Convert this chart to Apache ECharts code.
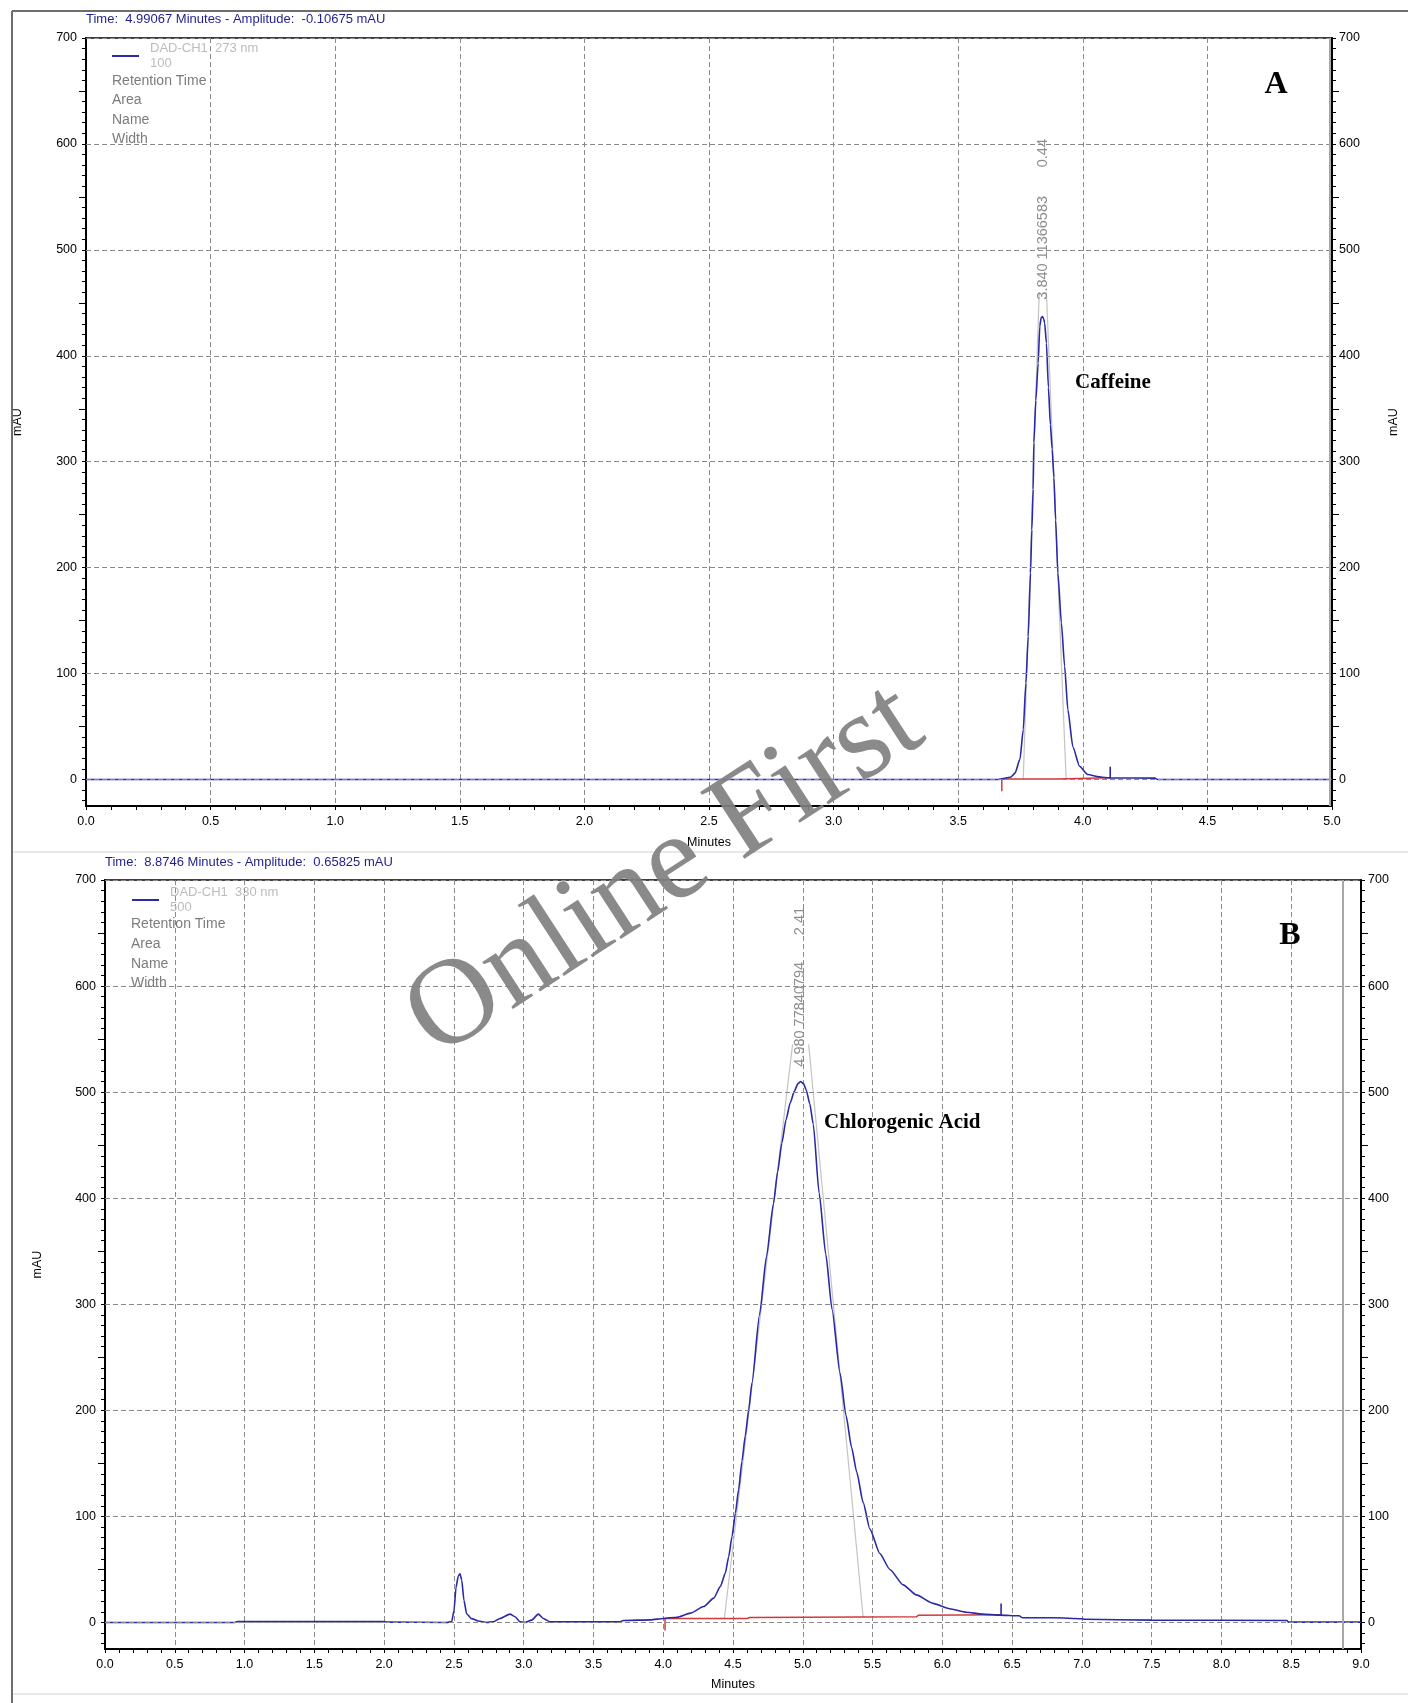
<!DOCTYPE html>
<html>
<head>
<meta charset="utf-8">
<script src="https://cdn.jsdelivr.net/npm/echarts@6.0.0/dist/echarts.min.js"></script>
<style>
html,body{margin:0;padding:0;background:#ffffff;}
#chart{width:1408px;height:1703px;}
</style>
</head>
<body>
<div id="chart"></div>
<script>
// ================= DATA =================
const panelLetters = ['A', 'B'];
const compoundNames = ['Caffeine', 'Chlorogenic Acid'];
const channelNames = ['DAD-CH1  273 nm', 'DAD-CH1  330 nm'];
const channelScales = ['100', '500'];
const legendFields = ['Retention Time', 'Area', 'Name', 'Width'];
const cursorTimes = [4.99067, 8.8746];
const cursorAmplitudes = ['-0.10675', '0.65825'];
const xMaxMinutes = [5, 9];
const yLabelValues = [0, 100, 200, 300, 400, 500, 600, 700];
const yMidTickValues = [50, 150, 250, 350, 450, 550, 650];
const yMinorTickValues = [];
for (let v = -20; v <= 700; v += 10) yMinorTickValues.push(v);

const peakRT = [3.840, 4.980];
const peakRTText = ['3.840', '4.980'];
const peakAreaText = ['11366583', '77840794'];
const peakWidthText = ['0.44', '2.41'];

// Panel A chromatogram (minutes, mAU)
const signalA = [
  [0, 0], [3.66, 0], [3.68, 0.8], [3.695, 1.6], [3.71, 2.2], [3.728, 6], [3.7477, 19],
  [3.761, 47], [3.7716, 91], [3.7809, 135], [3.7902, 195], [3.7955, 236], [3.8008, 274],
  [3.8035, 318], [3.8115, 358], [3.8208, 393], [3.8274, 428], [3.833, 436], [3.838, 437],
  [3.843, 435], [3.847, 431], [3.854, 412], [3.862, 370], [3.870, 335], [3.877, 312],
  [3.884, 285], [3.891, 245], [3.900, 195], [3.914, 148], [3.927, 107], [3.940, 66],
  [3.960, 31], [3.987, 12.5], [4.020, 4.7], [4.067, 2.5], [4.09, 1.8], [4.11, 1.5],
  [4.29, 1.3], [4.30, 0], [5.0, 0]
];
const baselineA = [[3.675, -11], [3.675, 0.6], [3.893, 0.6], [3.895, 1.6], [4.11, 1.6]];
const tangentLeftA = [[3.761, 0], [3.825, 460]];
const tangentRightA = [[3.933, 0], [3.854, 460]];
const peakEndA = [[4.11, 1.5], [4.11, 12]];

// Panel B chromatogram (minutes, mAU)
const signalB = [
  [0, 0], [0.93, 0], [0.95, 0.8], [2.0, 0.8], [2.02, 0.3], [2.45, 0], [2.484, 0.9],
  [2.501, 11.3], [2.515, 33], [2.532, 44], [2.544, 46], [2.556, 40], [2.572, 21],
  [2.591, 8.3], [2.627, 3.6], [2.675, 1.4], [2.735, 0], [2.782, 0.6], [2.830, 3.8],
  [2.902, 7.9], [2.938, 5.4], [2.974, 0.6], [3.01, 0], [3.057, 2.2], [3.105, 7.9],
  [3.141, 3.8], [3.189, 0.6], [3.69, 0.6], [3.714, 1.9], [3.91, 2.5], [4.0, 3.8],
  [4.1, 5], [4.195, 8.8], [4.29, 15], [4.362, 23], [4.41, 34], [4.445, 46.5],
  [4.469, 62], [4.493, 81], [4.517, 103], [4.540, 125], [4.564, 152], [4.588, 176],
  [4.612, 200], [4.636, 226], [4.69, 290], [4.74, 345], [4.79, 395], [4.82, 425],
  [4.85, 452], [4.88, 474], [4.91, 490], [4.94, 501], [4.965, 508], [4.985, 510],
  [5.005, 508], [5.025, 502], [5.05, 489], [5.075, 470], [5.117, 405], [5.165, 347],
  [5.21, 295], [5.267, 235], [5.31, 195], [5.35, 165], [5.386, 142], [5.433, 113],
  [5.481, 88], [5.552, 65], [5.624, 50], [5.719, 35.5], [5.814, 26], [5.933, 18],
  [6.052, 13], [6.171, 9.7], [6.29, 7.9], [6.41, 6.9], [6.55, 6.3], [6.576, 4.4],
  [6.8, 4.4], [7.0, 3.5], [7.02, 3], [7.5, 2.2], [8.47, 1.9], [8.48, 0.3], [9.0, 0.3]
];
const baselineB = [[4.013, -7.5], [4.013, 3.8], [4.6, 3.8], [4.62, 4.7], [5.814, 5.3], [5.83, 6.9], [6.421, 7.2]];
const tangentLeftB = [[4.438, 3.8], [4.927, 545]];
const tangentRightB = [[5.433, 4.4], [5.042, 545]];
const peakEndB = [[6.421, 6.9], [6.421, 18]];

const signals = [signalA, signalB];
const baselines = [baselineA, baselineB];
const tangentsL = [tangentLeftA, tangentLeftB];
const tangentsR = [tangentRightA, tangentRightB];
const peakEnds = [peakEndA, peakEndB];

// ================= STYLE / LAYOUT =================
const FONT = '"Liberation Sans", Arial, sans-serif';
const SERIF = '"Liberation Serif", "Times New Roman", serif';
const BLUE = '#2a2aa6';
const RED = '#d23a3a';
const GRID_GRAY = '#8a8a8a';

const gridsLayout = [
  { left: 86, top: 38, width: 1255, height: 768 },
  { left: 105, top: 880, width: 1256, height: 769 }
];
const leftNameGap = [61.5, 60.5];
const minutesGap = [30, 29];

const chart = echarts.init(document.getElementById('chart'));

const grids = gridsLayout.map(g => Object.assign({
  show: true, borderColor: '#000', borderWidth: 1.5, backgroundColor: 'transparent', containLabel: false
}, g));

const xAxes = [0, 1].map(p => ({
  gridIndex: p, type: 'value', min: 0, max: xMaxMinutes[p], interval: 0.5,
  axisLine: { show: true, onZero: false, lineStyle: { color: '#000', width: 2 } },
  axisTick: { show: true, length: 4, lineStyle: { color: '#000', width: 1 } },
  minorTick: { show: true, splitNumber: 5, length: 4, lineStyle: { color: '#000', width: 1 } },
  splitLine: { show: true, lineStyle: { color: GRID_GRAY, type: [5, 3], width: 1 } },
  axisLabel: { color: '#000', fontSize: 12.5, fontFamily: FONT, margin: 9,
    formatter: v => v.toFixed(1) },
  name: 'Minutes', nameLocation: 'middle', nameGap: minutesGap[p],
  nameTextStyle: { color: '#000', fontSize: 12.5, fontFamily: FONT }
}));

function yAxesFor(p) {
  const base = { gridIndex: p, type: 'value', min: -25, max: 700, splitLine: { show: false } };
  const main = (pos, withName) => Object.assign({}, base, {
    position: pos,
    axisLine: { show: true, onZero: false, lineStyle: { color: '#000', width: 2 } },
    axisTick: { show: true, customValues: yMinorTickValues, length: 4, lineStyle: { color: '#000', width: 1 } },
    axisLabel: { show: true, customValues: yLabelValues, color: '#000', fontSize: 12.5, fontFamily: FONT,
      margin: pos === 'left' ? 9 : 7 },
    name: withName ? 'mAU' : '',
    nameLocation: 'middle', nameRotate: 90,
    nameGap: pos === 'left' ? leftNameGap[p] : 55,
    nameTextStyle: { color: '#000', fontSize: 12.5, fontFamily: FONT }
  });
  const mid = pos => Object.assign({}, base, {
    position: pos,
    axisLine: { show: false, onZero: false },
    axisTick: { show: true, customValues: yMidTickValues, length: 7, lineStyle: { color: '#000', width: 1 } },
    axisLabel: { show: false }
  });
  return [main('left', true), mid('left'), main('right', p === 0), mid('right')];
}
const yAxes = yAxesFor(0).concat(yAxesFor(1));

const series = [];
[0, 1].forEach(p => {
  const xi = p, yi = p * 4;
  series.push({
    name: 'grid' + p, type: 'line', xAxisIndex: xi, yAxisIndex: yi, data: [], silent: true, z: 1,
    markLine: { silent: true, symbol: ['none', 'none'], label: { show: false },
      lineStyle: { color: GRID_GRAY, type: [5, 3], width: 1 },
      data: yLabelValues.map(v => ({ yAxis: v })) }
  });
  series.push({
    name: 'cursor' + p, type: 'line', xAxisIndex: xi, yAxisIndex: yi, data: [], silent: true, z: 1,
    markLine: { silent: true, symbol: ['none', 'none'], label: { show: false },
      lineStyle: { color: '#a8a8a8', type: 'solid', width: 2 },
      data: [{ xAxis: cursorTimes[p] }] }
  });
  [tangentsL[p], tangentsR[p]].forEach((d, k) => series.push({
    name: 'tangent' + p + k, type: 'line', xAxisIndex: xi, yAxisIndex: yi, data: d,
    symbol: 'none', silent: true, z: 2, lineStyle: { color: '#c4c4c4', width: 1.2 }
  }));
  series.push({
    name: 'baseline' + p, type: 'line', xAxisIndex: xi, yAxisIndex: yi, data: baselines[p],
    symbol: 'none', silent: true, z: 3, lineStyle: { color: RED, width: 1.5 }
  });
  series.push({
    name: channelNames[p], type: 'line', xAxisIndex: xi, yAxisIndex: yi, data: signals[p],
    symbol: 'none', silent: true, z: 4, color: BLUE, smooth: 0.2, smoothMonotone: 'x',
    lineStyle: { color: BLUE, width: 1.6 }
  });
  series.push({
    name: 'peakEnd' + p, type: 'line', xAxisIndex: xi, yAxisIndex: yi, data: peakEnds[p],
    symbol: 'none', silent: true, z: 4, lineStyle: { color: BLUE, width: 1.6 }
  });
});

const titles = [0, 1].map(p => ({
  text: 'Time:  ' + cursorTimes[p] + ' Minutes - Amplitude:  ' + cursorAmplitudes[p] + ' mAU',
  left: gridsLayout[p].left, top: [13, 856][p], padding: 0,
  textStyle: { fontSize: 13, fontWeight: 'normal', color: '#1f1f8f', fontFamily: FONT }
}));

const legends = [0, 1].map(p => ({
  data: [channelNames[p]], left: [112, 132][p], top: [41, 885][p], padding: 0,
  orient: 'vertical', icon: 'rect', itemWidth: 27, itemHeight: 2, selectedMode: false,
  formatter: name => name + '\n' + channelScales[p],
  textStyle: { color: '#bcbcbc', fontSize: 13, lineHeight: 15, fontFamily: FONT, padding: [0, 0, 0, 6] }
}));

chart.setOption({
  animation: false,
  backgroundColor: '#ffffff',
  title: titles,
  legend: legends,
  grid: grids,
  xAxis: xAxes,
  yAxis: yAxes,
  series: series
});

// ================= ANNOTATIONS =================
const g = [];
g.push({ type: 'line', shape: { x1: 12, y1: 11, x2: 1408, y2: 11 }, style: { stroke: '#6e6e6e', lineWidth: 2 }, z: 50 });
g.push({ type: 'line', shape: { x1: 12, y1: 11, x2: 12, y2: 1703 }, style: { stroke: '#6e6e6e', lineWidth: 2 }, z: 50 });
g.push({ type: 'line', shape: { x1: 13, y1: 852, x2: 1408, y2: 852 }, style: { stroke: '#e8e8e8', lineWidth: 2 }, z: 50 });
g.push({ type: 'line', shape: { x1: 13, y1: 1694, x2: 1408, y2: 1694 }, style: { stroke: '#e8e8e8', lineWidth: 2 }, z: 50 });

const fieldX = [112, 131];
const fieldY = [[81, 100.5, 120, 139], [924, 944, 964, 983]];
[0, 1].forEach(p => {
  legendFields.forEach((t, i) => g.push({
    type: 'text', x: fieldX[p], y: fieldY[p][i], z: 20,
    style: { text: t, fill: '#7c7c7c', font: '14px ' + FONT, align: 'left', verticalAlign: 'middle',
      textAlign: 'left', textVerticalAlign: 'middle' }
  }));
});

const letterPos = [[1276, 85], [1290, 936]];
const namePos = [[1075, 383], [824, 1123]];
[0, 1].forEach(p => {
  g.push({ type: 'text', x: letterPos[p][0], y: letterPos[p][1], z: 20,
    style: { text: panelLetters[p], fill: '#000', font: 'bold 32px ' + SERIF, align: 'center', verticalAlign: 'middle',
      textAlign: 'center', textVerticalAlign: 'middle' } });
  g.push({ type: 'text', x: namePos[p][0], y: namePos[p][1], z: 20,
    style: { text: compoundNames[p], fill: '#000', font: 'bold 21px ' + SERIF, align: 'left', verticalAlign: 'middle',
      textAlign: 'left', textVerticalAlign: 'middle' } });
});

// rotated peak labels anchored at (retention time, start amplitude)
const labelStarts = [[453, 491, 578], [524, 562, 648]];
[0, 1].forEach(p => {
  const texts = [peakRTText[p], peakAreaText[p], peakWidthText[p]];
  texts.forEach((t, i) => {
    const pt = chart.convertToPixel({ xAxisIndex: p, yAxisIndex: p * 4 }, [peakRT[p], labelStarts[p][i]]);
    g.push({ type: 'text', x: pt[0], y: pt[1], rotation: Math.PI / 2, z: 20,
      style: { text: t, fill: '#8e8e8e', font: '14.5px ' + FONT, align: 'left', verticalAlign: 'middle',
        textAlign: 'left', textVerticalAlign: 'middle' } });
  });
});

// watermark
g.push({ type: 'text', x: 665, y: 872, rotation: 33 * Math.PI / 180, z: 100,
  style: { text: 'Online First', fill: 'rgba(128,128,128,0.92)', font: '122px ' + SERIF,
    align: 'center', verticalAlign: 'middle', textAlign: 'center', textVerticalAlign: 'middle' } });

chart.setOption({ graphic: g });
</script>
</body>
</html>
